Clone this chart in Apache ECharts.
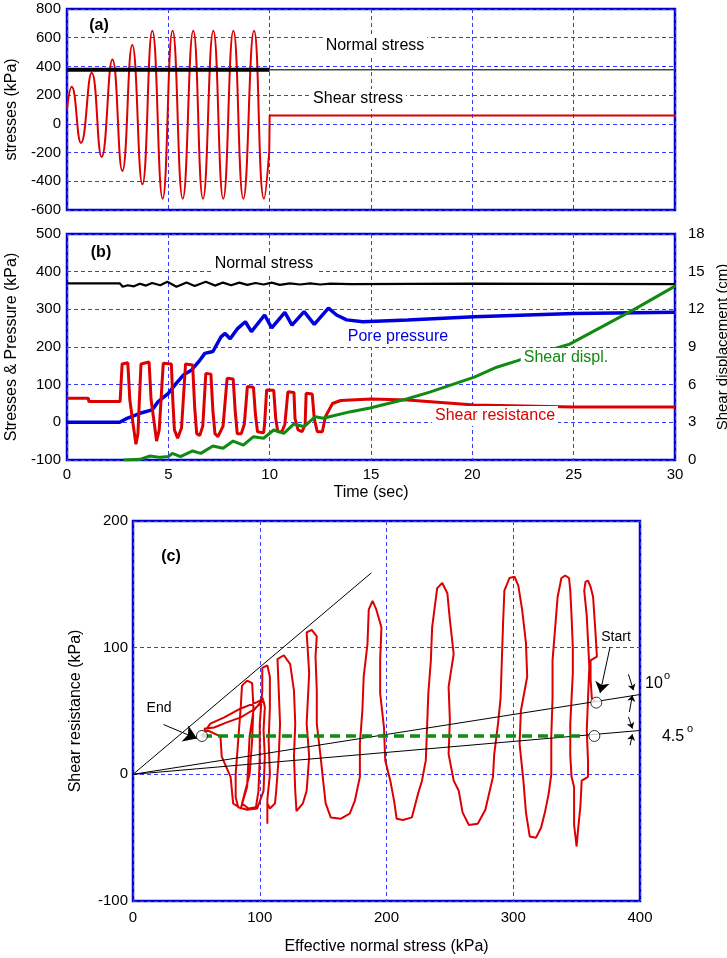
<!DOCTYPE html>
<html>
<head>
<meta charset="utf-8">
<script src="https://cdn.jsdelivr.net/npm/echarts@6/dist/echarts.min.js"></script>
<style>
  html, body { margin: 0; padding: 0; background: #fff; }
  #chart { width: 727px; height: 958px; }
</style>
</head>
<body>
<div id="chart"></div>
<script>
// (a) applied stresses: shear wave turning points, then the static part after 10 s
const T_SHEAR_A = [0, 0.23, 0.69, 1.22, 1.71, 2.24, 2.73, 3.22, 3.72, 4.21, 4.72, 5.21, 5.71, 6.23, 6.71, 7.22, 7.71, 8.21, 8.70, 9.23, 9.72, 9.98];
const SHEAR_A = [107, 258, -133, 356, -230, 449, -328, 549, -421, 649, -521, 649, -521, 649, -521, 649, -521, 649, -521, 649, -521, -190];
const T_SHEAR_A_END = [9.98, 10, 30];
const SHEAR_A_END = [-190, 58, 58];
const T_NORMAL_A_CYCLIC = [0, 10];
const T_NORMAL_A_AFTER = [10, 30];
const NORMAL_A = [377, 377];

// (b) measured response
const T_NORMAL_B = [0, 2.6, 2.75, 3.0, 3.3, 3.6, 3.9, 4.2, 4.6, 4.95, 5.4, 5.9, 6.3, 6.85, 7.3, 7.7, 8.1, 8.5, 8.9, 9.3, 9.7, 10.1, 10.5, 11.0, 11.5, 12.0, 12.5, 13.0, 14.0, 20.0, 30];
const NORMAL_B = [369, 369, 360, 364, 361, 368, 363, 370, 364, 373, 360, 371, 362, 373, 363, 371, 364, 371, 365, 370, 366, 371, 365, 369, 366, 369, 366, 368, 367, 368, 367];

const T_PORE_B = [0, 2.6, 2.9, 3.6, 4.2, 4.5, 5.0, 5.4, 5.75, 6.15, 6.5, 6.8, 7.2, 7.6, 7.8, 8.05, 8.4, 8.8, 9.1, 9.75, 10.1, 10.75, 11.1, 11.7, 12.2, 12.9, 13.3, 13.8, 14.6, 16.8, 20.1, 25, 30];
const PORE_B = [0, 0, 9, 24, 33, 55, 77, 104, 126, 139, 161, 183, 188, 227, 236, 222, 248, 267, 241, 285, 251, 292, 258, 294, 260, 303, 285, 272, 267, 272, 280, 289, 292];

const T_RES_B = [0, 1.05, 1.08, 2.62, 2.72, 3.0, 3.1, 3.25, 3.4, 3.5, 3.65, 4.05, 4.15, 4.3, 4.42, 4.55, 4.75, 5.15, 5.22, 5.3, 5.46, 5.65, 5.85, 6.2, 6.3, 6.4, 6.55, 6.7, 6.85, 7.1, 7.2, 7.3, 7.45, 7.7, 7.9, 8.2, 8.3, 8.4, 8.6, 8.75, 8.9, 9.2, 9.3, 9.4, 9.7, 9.75, 9.85, 10.2, 10.3, 10.4, 10.6, 10.75, 10.9, 11.2, 11.25, 11.4, 11.6, 11.75, 11.8, 12.1, 12.2, 12.35, 12.6, 12.75, 13.1, 13.5, 15, 16.8, 20.1, 25, 30];
const RES_B = [64, 64, 55, 55, 155, 158, 60, 0, -58, -30, 155, 160, 60, 0, -50, -20, 157, 155, 60, -20, -42, -15, 155, 152, 40, -30, -35, -10, 130, 128, 30, -30, -38, -10, 117, 115, 30, -30, -30, -5, 95, 93, 20, -25, -28, -5, 86, 85, 10, -25, -25, -5, 81, 79, 10, -20, -25, -5, 77, 75, 10, -25, -25, 15, 50, 58, 62, 59, 46, 41, 41];

const T_DISP_B = [2.8, 3.6, 4.1, 4.6, 5.0, 5.2, 5.6, 6.2, 6.6, 7.2, 7.7, 8.2, 8.7, 9.2, 9.7, 10.2, 10.7, 11.2, 11.7, 12.25, 12.65, 13.15, 14.0, 14.95, 16.8, 17.9, 20.1, 21.2, 22.2, 23.7, 24.8, 26.5, 28.1, 30];
const DISP_B = [0, 0.05, 0.32, 0.21, 0.27, 0.53, 0.27, 0.72, 0.53, 1.12, 0.93, 1.51, 1.19, 1.86, 1.73, 2.39, 2.12, 2.87, 2.65, 3.45, 3.32, 3.53, 3.85, 4.14, 4.88, 5.41, 6.6, 7.39, 7.9, 8.7, 9.23, 10.7, 12.1, 13.85];

// (c) stress path, effective normal stress vs shear resistance
const SIG_C = [
  365, 362, 361, 361, 366, 365, 364, 363, 361, 359, 357,
  356, 358, 359, 360, 359, 358, 359, 359, 354, 353, 351, 350,
  348, 348, 346, 345, 345, 346, 347, 347, 346, 345, 344, 341, 338,
  335, 333, 331, 331, 330, 330, 328, 325, 322, 318, 313,
  310, 308, 305, 306, 311, 310, 307, 304, 301, 297,
  293, 292, 291, 290, 288, 285, 284, 281, 278, 272, 265, 260,
  257, 253, 249, 250, 249, 253, 250, 248, 244, 240,
  236, 235, 233, 232, 231, 228, 225, 220, 213, 208, 206, 203,
  199, 198, 195, 195, 196, 192, 189, 186,
  185, 182, 181, 179, 179, 175, 171, 164, 156, 152, 150,
  148, 145, 145, 144, 145, 141, 137,
  139, 137, 139, 137, 134, 129,
  128, 127, 128, 127, 124, 119, 114,
  115, 116, 115, 113, 112, 108, 106, 106, 106,
  108, 107, 108, 108, 106, 102,
  102, 100, 100, 99, 97, 91, 86,
  92, 94, 95, 94, 90, 86,
  85, 83, 81, 81, 83, 90, 98,
  103, 104, 103, 104, 103,
  95, 85, 74, 64, 56,
  69, 70, 77, 79, 85, 90, 91, 92, 95, 103,
  98, 85, 72, 61, 54
];
const TAU_C = [
  57, 60, 75, 90, 93, 110, 125, 140, 148, 153, 152,
  145, 125, 105, 85, 60, 35, 10, -2, -5, -25, -45, -57,
  -40, -10, -2, 15, 40, 60, 80, 100, 125, 145, 155, 157, 155,
  140, 115, 90, 60, 30, 0, -15, -30, -42, -50, -49,
  -30, -5, 24, 50, 77, 104, 130, 149, 156, 155,
  145, 120, 90, 60, 40, 16, -2, -15, -28, -39, -40, -30,
  -13, -5, 16, 43, 69, 95, 122, 143, 151, 147,
  116, 90, 64, 37, 11, -5, -15, -34, -36, -35, -21, -5,
  11, 37, 64, 90, 116, 130, 137, 130,
  103, 77, 51, 24, -2, -21, -31, -35, -34, -23, -5,
  14, 40, 66, 93, 109, 114, 112,
  80, 40, 14, -13, -23, -29,
  -13, 14, 40, 66, 87, 94, 91,
  66, 40, 14, -13, -23, -27, -23, -39, -20,
  0, 27, 53, 77, 86, 84,
  66, 40, 14, -13, -26, -27, -23,
  0, 27, 53, 72, 74, 70,
  53, 27, 0, -18, -26, -28, -27,
  -13, 14, 35, 53, 58,
  51, 45, 41, 37, 36,
  30, 14, -2, -23, -27, -10, 10, 30, 50, 60,
  57, 52, 45, 40, 30
];

// reference lines through the origin and the marked states
const RAY_STEEP = [[0, 0], [188, 159]];
const RAY_10 = [[0, 0], [421, 66.3]];
const RAY_45 = [[0, 0], [417, 36.1]];
const RESIDUAL_LINE = [[54.4, 30.3], [357, 30.3]];
const STATE_POINTS = [[365.5, 56.6], [364, 30.3], [54.4, 30.3]];

const RED = '#dd0000';
const BLUE = '#0000dd';
const GREEN = '#108a10';
const BORDER = '#0000cc';
const FONT = 'Liberation Sans';

function pairs(xs, ys) {
  return xs.map((x, i) => [x, ys[i]]);
}

const split = { show: true, lineStyle: { color: '#3a3aff', type: [4, 3], width: 1 } };
const tickLabel = { fontSize: 15, color: '#000', fontFamily: FONT };
const nameStyle = { fontSize: 16, color: '#000', fontFamily: FONT };

function valueAxis(extra) {
  return Object.assign({
    type: 'value',
    axisLine: { show: false },
    axisTick: { show: false },
    splitLine: split,
    axisLabel: tickLabel,
    nameLocation: 'middle',
    nameTextStyle: nameStyle
  }, extra);
}

function line(xi, yi, data, color, width, extra) {
  return Object.assign({
    type: 'line',
    xAxisIndex: xi,
    yAxisIndex: yi,
    data: data,
    showSymbol: false,
    symbol: 'none',
    lineStyle: { color: color, width: width },
    silent: true
  }, extra);
}

function arrow(from, to, size) {
  return [
    { coord: from, symbol: 'none' },
    { coord: to, symbol: size ? 'arrow' : 'none', symbolSize: size || 0 }
  ];
}

function label(text, x, y, color, opts) {
  return {
    type: 'text',
    z: 100,
    style: Object.assign({
      text: text,
      x: x,
      y: y,
      fill: color || '#000',
      font: '16px "' + FONT + '"',
      align: 'center',
      verticalAlign: 'middle'
    }, opts || {})
  };
}

function gridBox(left, top, width, height) {
  return {
    left: left, top: top, width: width, height: height,
    show: true, borderColor: BORDER, borderWidth: 2.5,
    containLabel: false, outerBoundsMode: 'none'
  };
}

const chart = echarts.init(document.getElementById('chart'));

const option = {
  animation: false,
  textStyle: { fontFamily: FONT },
  grid: [
    gridBox(67, 9, 608, 201),
    gridBox(67, 234, 608, 226),
    gridBox(133, 521, 507, 380)
  ],
  xAxis: [
    valueAxis({ gridIndex: 0, min: 0, max: 30, interval: 5, axisLabel: { show: false } }),
    valueAxis({ gridIndex: 1, min: 0, max: 30, interval: 5, axisLabel: Object.assign({ margin: 7 }, tickLabel),
      name: 'Time (sec)', nameGap: 25 }),
    valueAxis({ gridIndex: 2, min: 0, max: 400, interval: 100, axisLabel: Object.assign({ margin: 9 }, tickLabel),
      name: 'Effective normal stress (kPa)', nameGap: 38 })
  ],
  yAxis: [
    valueAxis({ gridIndex: 0, min: -600, max: 800, interval: 200, axisLabel: Object.assign({ margin: 6 }, tickLabel),
      name: 'stresses (kPa)', nameGap: 44 }),
    valueAxis({ gridIndex: 1, min: -100, max: 500, interval: 100, axisLabel: Object.assign({ margin: 6 }, tickLabel),
      name: 'Stresses & Pressure (kPa)', nameGap: 46 }),
    valueAxis({ gridIndex: 1, position: 'right', min: 0, max: 18, interval: 3, splitLine: { show: false },
      axisLabel: Object.assign({ margin: 13 }, tickLabel), name: 'Shear displacement (cm)', nameGap: 31,
      nameTextStyle: Object.assign({}, nameStyle, { fontSize: 15 }) }),
    valueAxis({ gridIndex: 2, min: -100, max: 200, interval: 100, axisLabel: Object.assign({ margin: 5 }, tickLabel),
      name: 'Shear resistance (kPa)', nameGap: 49 })
  ],
  series: [
    // (a)
    line(0, 0, pairs(T_SHEAR_A, SHEAR_A), RED, 2, { smooth: 0.5 }),
    line(0, 0, pairs(T_SHEAR_A_END, SHEAR_A_END), RED, 2),
    line(0, 0, pairs(T_NORMAL_A_CYCLIC, NORMAL_A), '#000', 4),
    line(0, 0, pairs(T_NORMAL_A_AFTER, NORMAL_A), '#444', 1.6),
    // (b)
    line(1, 1, pairs(T_NORMAL_B, NORMAL_B), '#000', 2.2),
    line(1, 1, pairs(T_PORE_B, PORE_B), BLUE, 3.5),
    line(1, 1, pairs(T_RES_B, RES_B), RED, 3),
    line(1, 2, pairs(T_DISP_B, DISP_B), GREEN, 3),
    // (c)
    line(2, 3, pairs(SIG_C, TAU_C), RED, 2),
    line(2, 3, RAY_STEEP, '#000', 1, { clip: false }),
    line(2, 3, RAY_10, '#000', 1, { clip: false }),
    line(2, 3, RAY_45, '#000', 1, { clip: false }),
    line(2, 3, RESIDUAL_LINE, GREEN, 3.5, { lineStyle: { color: GREEN, width: 3.5, type: [10, 6] } }),
    {
      type: 'scatter', xAxisIndex: 2, yAxisIndex: 3, data: STATE_POINTS, symbol: 'circle', symbolSize: 11,
      itemStyle: { color: '#fff', borderColor: '#000', borderWidth: 1 }, z: 10, silent: true
    },
    {
      type: 'line', xAxisIndex: 2, yAxisIndex: 3, data: [], clip: false, silent: true, z: 11,
      markLine: {
        silent: true,
        animation: false,
        label: { show: false },
        lineStyle: { color: '#000', width: 1, type: 'solid' },
        symbol: ['none', 'arrow'],
        data: [
          arrow([24.1, 39.3], [50.5, 28.2], 13),
          arrow([376.4, 100.6], [368.5, 64.2], 11),
          arrow([386.7, 64.2], [406.4, 64.2], 0),
          arrow([386.7, 34.8], [406.4, 34.8], 0),
          arrow([390.9, 79], [394.8, 66.4], 6),
          arrow([391.6, 49.2], [394, 62.4], 6),
          arrow([390.9, 45.3], [394, 36.1], 6),
          arrow([392.2, 22.9], [394, 31.6], 6)
        ]
      }
    }
  ],
  graphic: [
    label('(a)', 99, 26, '#000', { font: 'bold 16px "' + FONT + '"' }),
    label('Normal stress', 375, 46, '#000', { backgroundColor: '#fff', padding: [2, 3] }),
    label('Shear stress', 358, 99, '#000', { backgroundColor: '#fff', padding: [2, 3] }),
    label('(b)', 101, 253, '#000', { font: 'bold 16px "' + FONT + '"' }),
    label('Normal stress', 264, 264, '#000', { backgroundColor: '#fff', padding: [2, 3] }),
    label('Pore pressure', 398, 337, BLUE, { backgroundColor: '#fff', padding: [2, 3] }),
    label('Shear displ.', 566, 358, GREEN, { backgroundColor: '#fff', padding: [2, 3] }),
    label('Shear resistance', 495, 416, RED, { backgroundColor: '#fff', padding: [2, 3] }),
    label('(c)', 171, 557, '#000', { font: 'bold 16px "' + FONT + '"' }),
    label('End', 159, 708, '#000', { font: '14px "' + FONT + '"' }),
    label('Start', 616, 637, '#000', { font: '14px "' + FONT + '"' }),
    label('10', 654, 684, '#000'),
    label('o', 667, 676, '#000', { font: '11px "' + FONT + '"' }),
    label('4.5', 673, 737, '#000'),
    label('o', 690, 729, '#000', { font: '11px "' + FONT + '"' })
  ]
};

chart.setOption(option);
</script>
</body>
</html>
